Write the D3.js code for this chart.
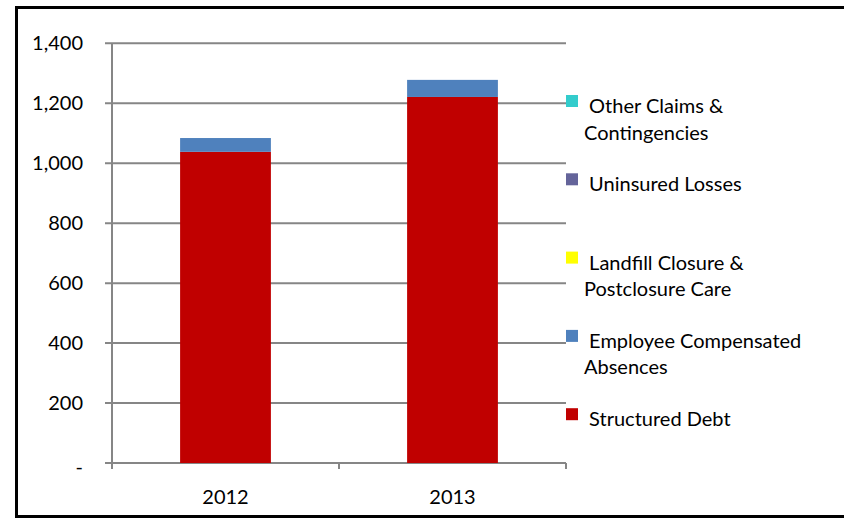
<!DOCTYPE html>
<html>
<head>
<meta charset="utf-8">
<script src="https://cdn.jsdelivr.net/npm/d3@7"></script>
<style>
  html, body { margin: 0; padding: 0; background: #fff; overflow: hidden; }
  svg { display: block; font-family: Lato, "Open Sans", sans-serif; }
</style>
</head>
<body>
<div id="chart"></div>
<script>
// Years on the category axis
const years = ['2012', '2013'];

// Series values (millions), bottom of the stack first
const structuredDebt = [1038, 1221];
const employeeCompensatedAbsences = [46, 57];
const landfillClosure = [0, 0];
const uninsuredLosses = [0, 0];
const otherClaims = [0, 0];

const seriesNames = [
  'Structured Debt',
  'Employee Compensated Absences',
  'Landfill Closure & Postclosure Care',
  'Uninsured Losses',
  'Other Claims & Contingencies'
];
const seriesValues = [structuredDebt, employeeCompensatedAbsences, landfillClosure, uninsuredLosses, otherClaims];
const seriesColors = ['#c00000', '#4f81bd', '#ffff00', '#64649a', '#33cccc'];

// Legend text lines, wrapped as in the picture
const legendLines = {
  'Other Claims & Contingencies': [' Other Claims &', 'Contingencies'],
  'Uninsured Losses': [' Uninsured Losses'],
  'Landfill Closure & Postclosure Care': [' Landfill Closure &', 'Postclosure Care'],
  'Employee Compensated Absences': [' Employee Compensated', 'Absences'],
  'Structured Debt': [' Structured Debt']
};

const yTicks = [0, 200, 400, 600, 800, 1000, 1200, 1400];

const width = 844;
const height = 518;
const plot = { left: 112, right: 566, top: 43.3, bottom: 463 };

const svg = d3.select('#chart')
  .append('svg')
  .attr('width', width)
  .attr('height', height);

// Build the stacked table from the arrays
const table = years.map((y, i) => {
  const row = { year: y };
  seriesNames.forEach((s, k) => { row[s] = seriesValues[k][i]; });
  return row;
});
const stacked = d3.stack().keys(seriesNames)(table);

const x = d3.scaleBand()
  .domain(years)
  .range([plot.left, plot.right])
  .paddingInner(0.6)
  .paddingOuter(0.3);

const y = d3.scaleLinear()
  .domain([0, 1400])
  .range([plot.bottom, plot.top]);

const color = d3.scaleOrdinal().domain(seriesNames).range(seriesColors);

// Gridlines (with small ticks left of the axis)
svg.append('g')
  .selectAll('line')
  .data(yTicks)
  .join('line')
  .attr('x1', plot.left - 7)
  .attr('x2', plot.right)
  .attr('y1', d => y(d))
  .attr('y2', d => y(d))
  .attr('stroke', '#868686')
  .attr('stroke-width', 2);

// Value axis line
svg.append('line')
  .attr('x1', plot.left).attr('x2', plot.left)
  .attr('y1', y(1400)).attr('y2', plot.bottom + 6)
  .attr('stroke', '#868686')
  .attr('stroke-width', 2);

// Y tick labels
svg.append('g')
  .selectAll('text')
  .data(yTicks)
  .join('text')
  .attr('x', 83)
  .attr('y', d => y(d))
  .attr('dy', d => d === 0 ? '0.55em' : '0.35em')
  .attr('text-anchor', 'end')
  .attr('font-size', 20)
  .attr('fill', '#000')
  .text(d => d === 0 ? '-' : d3.format(',')(d));

// Category tick marks sit on the band boundaries
const step = x.step();
const boundaries = d3.range(years.length + 1).map(i => plot.left + i * step);
svg.append('g')
  .selectAll('line')
  .data(boundaries)
  .join('line')
  .attr('x1', d => d).attr('x2', d => d)
  .attr('y1', plot.bottom).attr('y2', plot.bottom + 6)
  .attr('stroke', '#868686')
  .attr('stroke-width', 2);

// Bars
svg.append('g')
  .selectAll('g')
  .data(stacked)
  .join('g')
  .attr('fill', d => color(d.key))
  .selectAll('rect')
  .data(d => d)
  .join('rect')
  .attr('x', d => x(d.data.year))
  .attr('width', x.bandwidth())
  .attr('y', d => y(d[1]))
  .attr('height', d => y(d[0]) - y(d[1]));

// Year labels
svg.append('g')
  .selectAll('text')
  .data(years)
  .join('text')
  .attr('x', d => x(d) + x.bandwidth() / 2)
  .attr('y', 497)
  .attr('dy', '0.35em')
  .attr('text-anchor', 'middle')
  .attr('font-size', 20)
  .text(d => d);

// Legend, top item is the top of the stack
const legendItems = seriesNames.slice().reverse();
const legend = svg.append('g')
  .selectAll('g')
  .data(legendItems)
  .join('g')
  .attr('transform', (d, i) => `translate(566,${95 + i * 78.3})`);

legend.append('rect')
  .attr('width', 12)
  .attr('height', 12)
  .attr('fill', d => color(d));

legend.append('text')
  .attr('font-size', 20)
  .attr('xml:space', 'preserve')
  .style('white-space', 'pre')
  .selectAll('tspan')
  .data(d => legendLines[d])
  .join('tspan')
  .attr('x', 18)
  .attr('y', (d, i) => 18 + i * 26.5)
  .text(d => d);

// Chart frame: left, top and bottom edges only (right edge lies off the page)
svg.append('path')
  .attr('d', `M${width},7.5 H16.5 V516.5 H${width}`)
  .attr('fill', 'none')
  .attr('stroke', '#000')
  .attr('stroke-width', 3);
</script>
</body>
</html>
